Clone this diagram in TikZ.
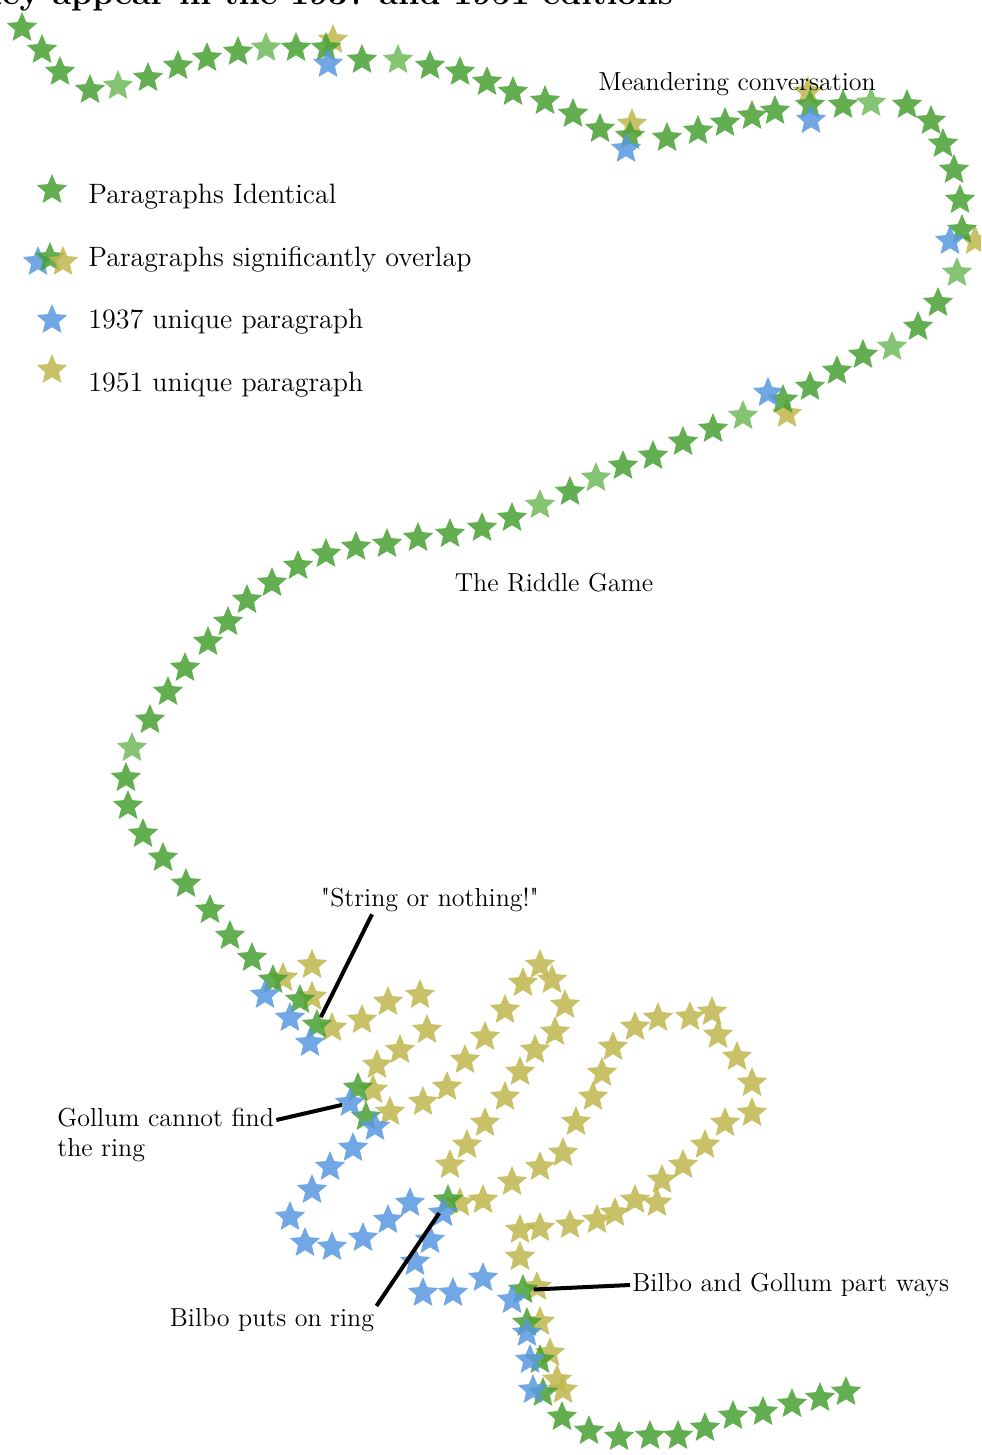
\documentclass[tikz,border=0pt]{standalone}
\usepackage{tikz}
\usetikzlibrary{shapes.geometric}
\definecolor{idem}{RGB}{70,160,50}
\definecolor{idemlt}{RGB}{112,186,90}
\definecolor{oldblue}{RGB}{88,152,224}
\definecolor{newolive}{RGB}{190,182,78}
\tikzset{
  para/.style={star,star points=5,star point ratio=2.2,fill=#1,draw=none,
    inner sep=0pt,minimum size=16pt,fill opacity=0.85},
  para/.default=idem,
  note/.style={font=\fontsize{13}{15}\selectfont,inner sep=1pt,align=center},
  legend/.style={font=\fontsize{14}{16}\selectfont,anchor=west,inner sep=0pt},
  lead/.style={line width=2pt,black},
}

\begin{document}
\begin{tikzpicture}[x=0.5pt,y=-0.5pt]
  \useasboundingbox (0,0) rectangle (981,1455);
  \clip (0,0) rectangle (981,1455);
  \node[font=\bfseries\fontsize{17}{20}\selectfont,anchor=base east] (title) at (680,5)
    {they appear in the 1937 and 1951 editions};

  % 1951 text only
  \foreach \x/\y [count=\i] in {333/40,632/124,808/92,975/241,787/414,312/965,283/978,
      312/997,332/1028,362/1020,388/1002,420/995,427/1030,400/1050,377/1065,373/1090,
      390/1112,423/1102,447/1087,465/1060,485/1037,505/1010,523/983,540/965,552/980,
      565/1005,555/1032,535/1050,520/1072,505/1097,485/1123,467/1145,450/1165,460/1203,
      483/1200,512/1182,540/1167,563/1153,576/1122,593/1097,602/1073,613/1047,635/1027,
      658/1018,690/1017,712/1012,718/1035,737/1057,752/1083,752/1113,725/1123,705/1145,
      683/1165,662/1180,657/1203,635/1200,615/1213,597/1220,570/1225,540/1228,520/1230,
      520/1257,537/1287,540/1322,550/1353,557/1380,563/1390}
    \node[para=newolive] (n\i) at (\x,\y) {};

  % both editions
  \foreach \x/\y/\c [count=\i] in {22/28/idem,42/50/idem,60/72/idem,90/90/idem,
      118/86/idemlt,148/78/idem,178/66/idem,207/58/idem,238/52/idem,266/48/idemlt,
      296/48/idem,326/48/idem,362/60/idem,398/60/idemlt,430/66/idem,460/72/idem,
      487/82/idem,513/92/idem,545/101/idem,573/114/idem,600/129/idem,630/136/idem,
      667/138/idem,698/131/idem,725/123/idem,752/116/idem,775/111/idem,810/105/idem,
      843/105/idem,871/103/idemlt,907/105/idem,931/121/idem,943/144/idem,954/170/idem,
      960/200/idem,962/230/idem,957/273/idemlt,938/303/idem,918/327/idem,892/347/idemlt,
      863/355/idem,837/371/idem,810/387/idem,783/400/idem,743/416/idemlt,713/429/idem,
      683/442/idem,653/456/idem,623/466/idem,596/478/idemlt,570/492/idem,540/505/idemlt,
      512/518/idem,482/528/idem,450/534/idem,418/538/idem,387/544/idem,356/547/idem,
      326/554/idem,298/566/idem,272/583/idem,247/600/idem,228/622/idem,208/642/idem,
      185/668/idem,168/692/idem,150/720/idem,132/748/idemlt,126/778/idem,128/806/idem,
      143/834/idem,163/858/idem,186/884/idem,210/910/idem,230/936/idem,252/958/idem,
      273/980/idem,300/1000/idem,358/1088/idem,366/1117/idem,527/1323/idem,540/1360/idem,
      543/1393/idem,562/1417/idem,589/1431/idem,619/1437/idem,650/1436/idem,678/1436/idem,
      705/1428/idem,733/1416/idem,763/1412/idem,792/1404/idem,820/1398/idem,846/1392/idem}
    \node[para=\c] (m\i) at (\x,\y) {};
  \node[para] (cry) at (317,1025) {};
  \node[para] (ring) at (448,1200) {};
  \node[para] (part) at (523,1290) {};

  % 1937 text only
  \foreach \x/\y [count=\i] in {328/64,626/149,811/120,950/241,768/393,265/995,290/1018,
      310/1043,375/1127,353/1148,330/1167,312/1190,290/1217,305/1243,332/1247,363/1238,
      388/1220,410/1203,443/1213,430/1240,415/1262,423/1293,453/1293,483/1278,512/1300,
      527/1333,530/1360,533/1390}
    \node[para=oldblue] (o\i) at (\x,\y) {};
  \node[para=oldblue] (lost) at (350,1103) {};

  % legend
  \node[para] (k1) at (52,190) {};
  \node[para=oldblue] (k2a) at (38,262) {};
  \node[para] (k2b) at (50,258) {};
  \node[para=newolive] (k2c) at (63,262) {};
  \node[para=oldblue] (k3) at (52,320) {};
  \node[para=newolive] (k4) at (52,370) {};
  \node[legend] (t1) at (88,197) {Paragraphs Identical};
  \node[legend] (t2) at (88,260) {Paragraphs significantly overlap};
  \node[legend] (t3) at (88,322) {1937 unique paragraph};
  \node[legend] (t4) at (88,385) {1951 unique paragraph};

  % labels
  \node[note] (meander) at (737,84) {Meandering conversation};
  \node[note] (riddle) at (554,583) {The Riddle Game};
  \node[note] (string) at (430,900) {\textquotedbl String or nothing!\textquotedbl};
  \node[note,align=left,anchor=north west] (gollum) at (55,1106) {Gollum cannot find\\the ring};
  \node[note] (puts) at (272,1320) {Bilbo puts on ring};
  \node[note,anchor=west] (parts) at (630,1285) {Bilbo and Gollum part ways};
  \draw[lead] ([xshift=-29pt]string.south) -- (cry);
  \draw[lead] ([yshift=-7pt]gollum.north east) -- (lost);
  \draw[lead] (puts.north east) -- (ring);
  \draw[lead] (parts.west) -- (part);
\end{tikzpicture}
\end{document}
